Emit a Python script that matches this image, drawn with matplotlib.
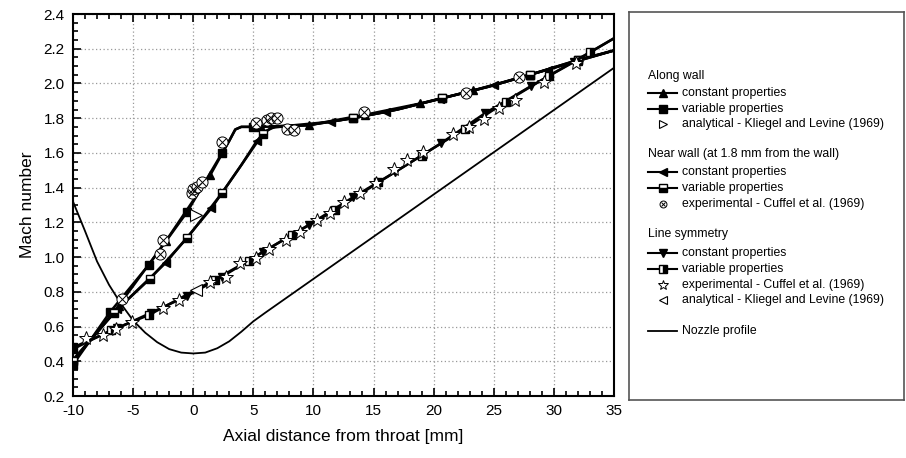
import numpy as np
import matplotlib.pyplot as plt
from matplotlib.ticker import MultipleLocator

plt.rcParams['font.family'] = ['Liberation Sans', 'DejaVu Sans']
plt.rcParams['axes.unicode_minus'] = False

# Nozzle profile
noz_x = [-10, -9, -8, -7, -6, -5, -4, -3, -2, -1, 0, 1, 2, 3, 4, 5, 6, 35]
noz_y = [1.32, 1.15, 0.975, 0.84, 0.73, 0.635, 0.565, 0.51, 0.47, 0.45, 0.445,
         0.45, 0.475, 0.515, 0.57, 0.63, 0.68, 2.09]

# Along wall
aw_c_x = [-10, -6.2, -2.3, 1.4, 3.0, 3.5, 4.0, 5.6, 9.6, 14.3, 18.9, 23.3, 28.0, 32.0, 35]
aw_c_y = [0.40, 0.72, 1.09, 1.47, 1.67, 1.735, 1.75, 1.75, 1.76, 1.82, 1.885, 1.96, 2.05, 2.13, 2.19]
aw_v_x = [-10, -6.9, -3.7, -0.5, 2.4, 3.0, 3.5, 4.0, 5.0, 9.6, 13.3, 17.0, 20.7, 24.5, 28.0, 32.0, 35]
aw_v_y = [0.38, 0.685, 0.955, 1.26, 1.60, 1.67, 1.735, 1.75, 1.75, 1.76, 1.80, 1.85, 1.915, 1.98,
          2.05, 2.135, 2.19]
aw_an_x = [0.2]
aw_an_y = [1.245]

# Near wall (1.8 mm from the wall)
nw_c_x = [-10, -6.3, -2.3, 1.5, 4.0, 5.3, 6.0, 6.8, 8.0, 11.5, 16.0, 20.5, 25.0, 29.5, 35]
nw_c_y = [0.41, 0.70, 0.966, 1.28, 1.53, 1.67, 1.725, 1.75, 1.757, 1.78, 1.835, 1.91, 1.99, 2.08, 2.19]
nw_v_x = [-10, -6.6, -3.6, -0.5, 2.4, 5.8, 6.5, 7.5, 9.6, 13.3, 17.0, 20.7, 24.5, 28.0, 32.0, 35]
nw_v_y = [0.40, 0.68, 0.875, 1.11, 1.37, 1.71, 1.745, 1.752, 1.76, 1.80, 1.85, 1.915, 1.98, 2.05,
          2.135, 2.19]
nw_ex_x = [-5.9, -2.75, -2.5, -0.1, 0.0, 0.3, 0.7, 2.4, 5.2, 6.1, 6.5, 7.0, 7.8, 8.4, 14.2, 22.7, 27.1]
nw_ex_y = [0.76, 1.02, 1.10, 1.367, 1.39, 1.405, 1.434, 1.665, 1.77, 1.79, 1.80, 1.80, 1.735, 1.73,
           1.835, 1.945, 2.04]

# Line symmetry
ls_c_x = [-10, -6.3, -3.5, -0.5, 2.4, 5.8, 9.6, 13.3, 16.8, 20.6, 24.3, 28.1, 31.7, 35]
ls_c_y = [0.48, 0.59, 0.68, 0.776, 0.887, 1.03, 1.185, 1.345, 1.49, 1.655, 1.83, 1.985, 2.125, 2.26]
ls_v_x = [-10, -6.8, -3.7, 1.8, 4.6, 8.2, 11.8, 15.4, 19.0, 22.6, 26.0, 29.6, 33.0, 35]
ls_v_y = [0.47, 0.58, 0.666, 0.87, 0.98, 1.127, 1.27, 1.43, 1.585, 1.74, 1.895, 2.045, 2.18, 2.26]
ls_ex_x = [-8.9, -7.5, -6.4, -5.1, -2.5, -1.2, 1.4, 2.7, 3.9, 5.2, 6.3, 7.7, 8.9, 10.3, 11.4, 12.5,
           13.9, 15.2, 16.7, 17.8, 19.1, 21.6, 22.9, 24.2, 25.4, 26.8, 29.2, 31.8]
ls_ex_y = [0.533, 0.55, 0.585, 0.628, 0.706, 0.753, 0.858, 0.887, 0.965, 0.994, 1.046, 1.098, 1.146,
           1.213, 1.253, 1.319, 1.37, 1.428, 1.507, 1.559, 1.607, 1.709, 1.747, 1.795, 1.858, 1.905,
           2.01, 2.12]
ls_an_x = [0.2]
ls_an_y = [0.81]

fig = plt.figure(figsize=(9.06, 4.58), dpi=100)
ax = fig.add_axes([73 / 906, 1 - 396 / 458, 541 / 906, 382 / 458])

lw = 1.8
ms = 6
ax.plot(noz_x, noz_y, color='black', lw=1.3, zorder=2)

ax.plot(aw_c_x, aw_c_y, color='black', lw=lw, marker='^', ms=ms, mfc='black', mec='black',
        markevery=[0, 1, 2, 3, 7, 8, 9, 10, 11, 12, 13], zorder=3)
ax.plot(aw_v_x, aw_v_y, color='black', lw=lw, marker='s', ms=ms, mfc='black', mec='black',
        markevery=[0, 1, 2, 3, 4, 8, 10, 12, 14, 15], zorder=3)
ax.plot(nw_c_x, nw_c_y, color='black', lw=lw, marker='<', ms=ms, mfc='black', mec='black',
        markevery=[0, 1, 2, 3, 5, 9, 10, 11, 12, 13], zorder=3)
ax.plot(nw_v_x, nw_v_y, color='black', lw=lw, marker='s', ms=ms, mfc='black', mfcalt='white',
        fillstyle='bottom', mec='black', markevery=[0, 1, 2, 3, 4, 5, 9, 11, 13, 14], zorder=3)
ax.plot(ls_c_x, ls_c_y, color='black', lw=lw, marker='v', ms=ms, mfc='black', mec='black',
        markevery=list(range(len(ls_c_x) - 1)), zorder=3)
ax.plot(ls_v_x, ls_v_y, color='black', lw=lw, marker='s', ms=ms, mfc='black', mfcalt='white',
        fillstyle='right', mec='black', markevery=list(range(len(ls_v_x) - 1)), zorder=3)

ax.plot(aw_an_x, aw_an_y, ls='none', marker='>', ms=8.5, mfc='white', mec='black', mew=0.8, zorder=4)
ax.plot(ls_an_x, ls_an_y, ls='none', marker='<', ms=8.5, mfc='white', mec='black', mew=0.8, zorder=4)
ax.plot(ls_ex_x, ls_ex_y, ls='none', marker='*', ms=10.5, mfc='white', mec='black', mew=0.7, zorder=4)
ax.plot(nw_ex_x, nw_ex_y, ls='none', marker='o', ms=8, mfc='white', mec='black', mew=0.7, zorder=4)
ax.plot(nw_ex_x, nw_ex_y, ls='none', marker='x', ms=5.5, mec='black', mew=0.7, zorder=5)

ax.set_xlim(-10, 35)
ax.set_ylim(0.2, 2.4)
ax.xaxis.set_major_locator(MultipleLocator(5))
ax.xaxis.set_minor_locator(MultipleLocator(1))
ax.yaxis.set_major_locator(MultipleLocator(0.2))
ax.yaxis.set_minor_locator(MultipleLocator(0.05))
ax.yaxis.set_major_formatter(plt.FuncFormatter(lambda v, p: f'{v:.1f}'))
ax.tick_params(which='both', direction='in', top=True, right=False, labelsize=11, width=1.2)
ax.tick_params(which='major', length=6, pad=6)
ax.tick_params(which='minor', length=3.5)
for s in ax.spines.values():
    s.set_linewidth(1.5)
ax.grid(True, which='major', color='#999999', ls=(0, (1, 2)), lw=0.9)
ax.set_xlabel('Axial distance from throat [mm]', fontsize=12.5, labelpad=8)
ax.set_ylabel('Mach number', fontsize=12.5, labelpad=6)

# Legend box
lg = fig.add_axes([629 / 906, 1 - 400 / 458, 275 / 906, 388 / 458])
lg.set_xlim(0, 275)
lg.set_ylim(388, 0)
lg.set_xticks([])
lg.set_yticks([])
for s in lg.spines.values():
    s.set_color('#555555')
    s.set_linewidth(1.2)

x0, x1, xm, xt = 19, 48, 33.5, 53
fs = 8.8


def title(y, txt):
    lg.text(x0, y - 12, txt, fontsize=fs, va='center', ha='left')


def entry(y, txt, line=True, **mk):
    if line:
        lg.plot([x0, x1], [y - 12, y - 12], color='black', lw=1.5)
    lg.plot([xm], [y - 12], ls='none', **mk)
    lg.text(xt, y - 12, txt, fontsize=fs, va='center', ha='left')


lms = 5.5
title(76, 'Along wall')
entry(93, 'constant properties', marker='^', ms=lms, color='black')
entry(109, 'variable properties', marker='s', ms=lms, color='black')
entry(124, 'analytical - Kliegel and Levine (1969)', line=False, marker='>', ms=6,
      mfc='white', mec='black', mew=0.8)
title(154, 'Near wall (at 1.8 mm from the wall)')
entry(172, 'constant properties', marker='<', ms=lms, color='black')
entry(188, 'variable properties', marker='s', ms=lms, mfc='black', mfcalt='white',
      fillstyle='bottom', mec='black')
lg.plot([xm], [204 - 12], ls='none', marker='o', ms=5, mfc='white', mec='black', mew=0.7)
lg.plot([xm], [204 - 12], ls='none', marker='x', ms=3.3, mec='black', mew=0.7)
lg.text(xt, 204 - 12, 'experimental - Cuffel et al. (1969)', fontsize=fs, va='center', ha='left')
title(234, 'Line symmetry')
entry(253, 'constant properties', marker='v', ms=lms, color='black')
entry(269, 'variable properties', marker='s', ms=lms, mfc='black', mfcalt='white',
      fillstyle='right', mec='black')
entry(285, 'experimental - Cuffel et al. (1969)', line=False, marker='*', ms=7.5,
      mfc='white', mec='black', mew=0.7)
entry(300, 'analytical - Kliegel and Levine (1969)', line=False, marker='<', ms=6,
      mfc='white', mec='black', mew=0.8)
lg.plot([x0, x1], [331 - 12, 331 - 12], color='black', lw=1.3)
lg.text(xt, 331 - 12, 'Nozzle profile', fontsize=fs, va='center', ha='left')

fig.savefig('out.png', dpi=100)
